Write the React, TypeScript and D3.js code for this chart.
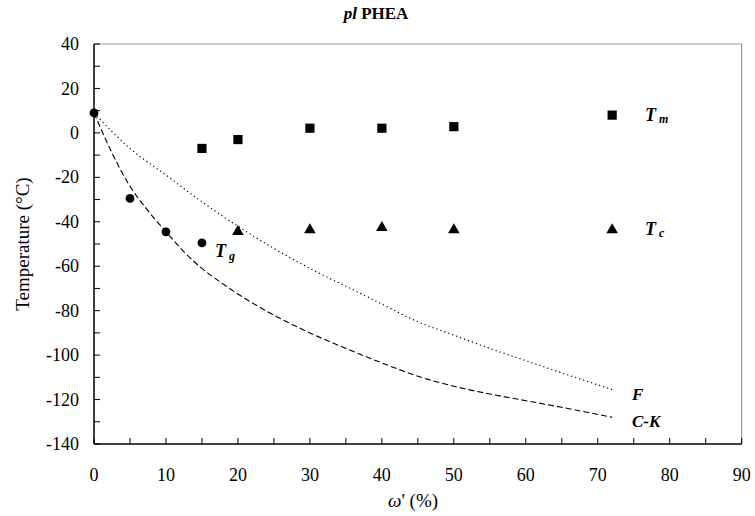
import React from 'react';
import * as d3 from 'd3';

// measured glass transition points (T_g), melting (T_m) and crystallisation (T_c)
const tgX = [0, 5, 10, 15];
const tgY = [9, -29.5, -44.5, -49.5];
const tmX = [15, 20, 30, 40, 50, 72];
const tmY = [-7, -3, 2.1, 2.1, 2.8, 8];
const tcX = [20, 30, 40, 50, 72];
const tcY = [-44.4, -43.7, -42.7, -43.7, -43.7];

// model curves: Fox (F) and Couchman-Karasz (C-K)
const foxX = [0, 5, 10, 15, 20, 25, 30, 35, 40, 45, 50, 55, 60, 65, 72];
const foxY = [9, -7, -19, -31, -42, -52, -61, -69, -77, -85, -91, -97, -102.5, -108, -115.5];
const ckX = [0, 2.5, 5, 7.5, 10, 12.5, 15, 17.5, 20, 25, 30, 35, 40, 45, 50, 55, 60, 65, 72];
const ckY = [9, -9, -24, -35, -44.5, -53.5, -61, -67, -72.5, -82, -90, -97, -103.5, -109.5, -114, -117.5, -120.5, -123.5, -128];

const xTicks = [0, 10, 20, 30, 40, 50, 60, 70, 80, 90];
const yTicks = [40, 20, 0, -20, -40, -60, -80, -100, -120, -140];

const W = 755;
const H = 516;
const serif = "'Liberation Serif', 'Times New Roman', serif";

const App = () => {
  const x = d3.scaleLinear().domain([0, 90]).range([94, 741.7]);
  const y = d3.scaleLinear().domain([-140, 40]).range([444, 44]);

  const line = d3.line<[number, number]>()
    .x(d => x(d[0]))
    .y(d => y(d[1]))
    .curve(d3.curveMonotoneX);

  const fox = foxX.map((v, i) => [v, foxY[i]] as [number, number]);
  const ck = ckX.map((v, i) => [v, ckY[i]] as [number, number]);

  const minorX = d3.range(0, 91, 5);
  const minorY = d3.range(-140, 41, 10);
  const tri = d3.symbol(d3.symbolTriangle, 58)();

  return (
    <svg width={W} height={H} style={{ position: 'absolute', left: 0, top: 0, fontFamily: serif }}>
      <rect width={W} height={H} fill="#fff" />

      <text x={376} y={19} textAnchor="middle" fontSize={17} fontWeight="bold">
        <tspan fontStyle="italic">pl</tspan> PHEA
      </text>

      {/* frame */}
      <line x1={x(0)} x2={x(90)} y1={y(40)} y2={y(40)} stroke="#9a9a9a" strokeWidth={1} />
      <line x1={x(90)} x2={x(90)} y1={y(40)} y2={y(-140)} stroke="#808080" strokeWidth={1} />
      <line x1={x(0)} x2={x(0)} y1={y(40)} y2={y(-140)} stroke="#000" strokeWidth={1.5} />
      <line x1={x(0)} x2={x(90)} y1={y(-140)} y2={y(-140)} stroke="#000" strokeWidth={1.5} />

      {minorY.map(v => (
        <line key={'yt' + v} x1={x(0)} x2={x(0) + 6} y1={y(v)} y2={y(v)} stroke="#000" strokeWidth={1} />
      ))}
      {minorX.map(v => (
        <line key={'xt' + v} x1={x(v)} x2={x(v)} y1={y(-140)} y2={y(-140) - 6} stroke="#000" strokeWidth={1} />
      ))}

      {yTicks.map(v => (
        <text key={'yl' + v} x={79} y={y(v)} dy="0.34em" textAnchor="end" fontSize={18}>{v}</text>
      ))}
      {xTicks.map(v => (
        <text key={'xl' + v} x={x(v)} y={481} textAnchor="middle" fontSize={18}>{v}</text>
      ))}

      <text transform={`translate(29,${(y(40) + y(-140)) / 2}) rotate(-90)`} textAnchor="middle" fontSize={19}>
        Temperature (°C)
      </text>
      <text x={413} y={507} textAnchor="middle" fontSize={19}>
        <tspan fontStyle="italic">ω</tspan>' (%)
      </text>

      <path d={line(fox) || ''} fill="none" stroke="#000" strokeWidth={1.2} strokeDasharray="1.2,3" />
      <path d={line(ck) || ''} fill="none" stroke="#000" strokeWidth={1.1} strokeDasharray="6,3" />

      {tgX.map((v, i) => (
        <circle key={'tg' + i} cx={x(v)} cy={y(tgY[i])} r={4.4} fill="#000" />
      ))}
      {tmX.map((v, i) => (
        <rect key={'tm' + i} x={x(v) - 4.6} y={y(tmY[i]) - 4.6} width={9.2} height={9.2} fill="#000" />
      ))}
      {tcX.map((v, i) => (
        <path key={'tc' + i} d={tri || ''} transform={`translate(${x(v)},${y(tcY[i])})`} fill="#000" />
      ))}

      <g fontWeight="bold" fontStyle="italic">
        <text x={645} y={121} fontSize={18}>T<tspan fontSize={12} dx={3} dy={2}>m</tspan></text>
        <text x={645} y={235} fontSize={18}>T<tspan fontSize={12} dx={3} dy={2}>c</tspan></text>
        <text x={215} y={257} fontSize={18}>T<tspan fontSize={12} dx={3} dy={3}>g</tspan></text>
        <text x={632} y={400} fontSize={17}>F</text>
        <text x={632} y={427} fontSize={17}>C-K</text>
      </g>
    </svg>
  );
};

export default App;
